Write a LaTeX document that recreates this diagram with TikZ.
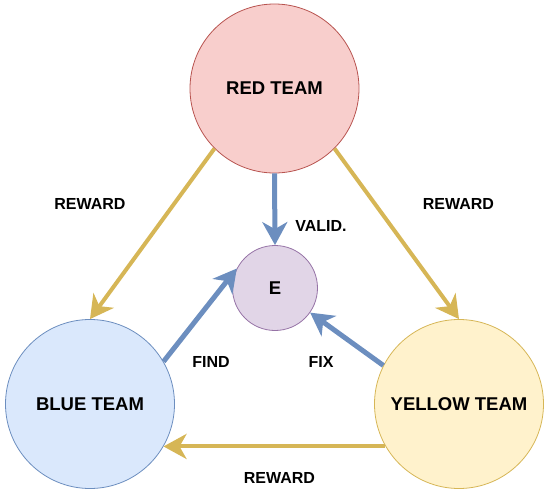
\documentclass[tikz,border=0pt]{standalone}
\usepackage{fontspec}
\setmainfont{Liberation Sans}
\usetikzlibrary{arrows.meta}
\definecolor{redfill}{HTML}{F8CECC}
\definecolor{redline}{HTML}{B85450}
\definecolor{bluefill}{HTML}{DAE8FC}
\definecolor{blueline}{HTML}{6C8EBF}
\definecolor{yelfill}{HTML}{FFF2CC}
\definecolor{yelline}{HTML}{D6B656}
\definecolor{purfill}{HTML}{E1D5E7}
\definecolor{purline}{HTML}{9673A6}
\begin{document}
\begin{tikzpicture}[x=1pt,y=-1pt,
  team/.style={circle,draw,line width=0.8pt,minimum size=169pt,inner sep=0pt,font=\bfseries\fontsize{18.5}{20}\selectfont},
  lbl/.style={font=\bfseries\fontsize{16}{18}\selectfont,inner sep=0pt},
  goldarrow/.style={draw=yelline,line width=4pt,-{Stealth[length=23pt 0,width=25pt 0,inset=7pt]}},
  bluearrow/.style={draw=blueline,line width=5pt,-{Stealth[length=23pt 0,width=25pt 0,inset=7pt]}}]
\useasboundingbox (0,0) rectangle (550,493);
\node[team,fill=redfill,draw=redline] (red) at (274.5,88.5) {RED TEAM};
\node[team,fill=bluefill,draw=blueline] (blue) at (90,404) {BLUE TEAM};
\node[team,fill=yelfill,draw=yelline] (yellow) at (459,404) {YELLOW TEAM};
\node[circle,draw=purline,fill=purfill,line width=0.8pt,minimum size=85pt,inner sep=0pt,font=\bfseries\fontsize{18.5}{20}\selectfont] (e) at (275,288) {E};
\draw[goldarrow] (red.225) -- (blue.90);
\draw[goldarrow] (red.315) -- (yellow.90);
\draw[goldarrow] (yellow.210) -- (blue.-30);
\draw[bluearrow] (red.270) -- (e.90);
\draw[bluearrow] (blue.30) -- (e.153);
\draw[bluearrow] (yellow.153) -- (e.-35);
\node[lbl] (l1) at (90,204) {REWARD};
\node[lbl] (l2) at (458.5,204) {REWARD};
\node[lbl] (l3) at (279.5,478) {REWARD};
\node[lbl] (l4) at (321,226) {VALID.};
\node[lbl] (l5) at (211,362) {FIND};
\node[lbl] (l6) at (321,362) {FIX};
\end{tikzpicture}
\end{document}
